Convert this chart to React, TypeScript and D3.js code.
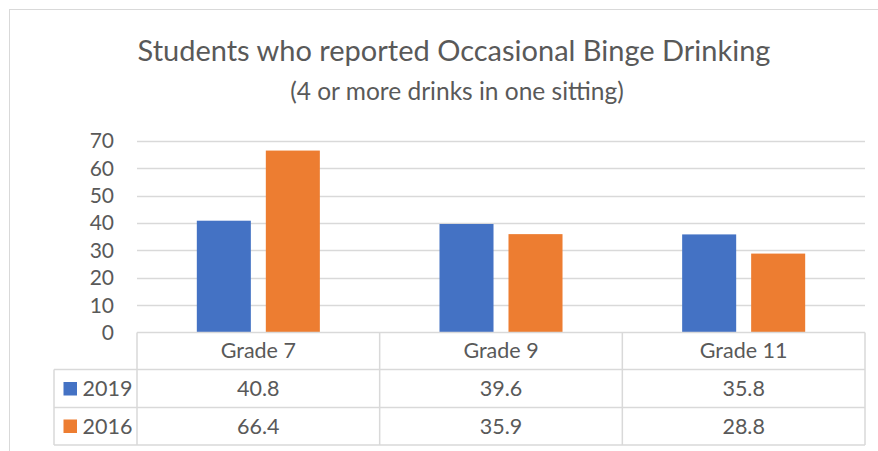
import * as d3 from 'd3';
import React, { useEffect, useRef } from 'react';

const categories = ['Grade 7', 'Grade 9', 'Grade 11'];
const seriesNames = ['2019', '2016'];
const values2019 = [40.8, 39.6, 35.8];
const values2016 = [66.4, 35.9, 28.8];
const yTicks = [0, 10, 20, 30, 40, 50, 60, 70];

const colors = ['#4472C4', '#ED7D31'];
const textColor = '#595959';
const lineColor = '#D9D9D9';
const font = 'Lato, "Open Sans", sans-serif';

function App() {
    const ref = useRef(null);

    useEffect(() => {
        document.body.style.margin = '0';
        const svg = d3.select(ref.current);
        svg.selectAll('*').remove();

        const left = 137, right = 865;
        const top = 140.7, bottom = 332.5;
        const rowTops = [332.5, 369.5, 407.5, 445];
        const legendLeft = 54;

        // outer chart border
        svg.append('rect')
            .attr('x', 9.5).attr('y', 9.5)
            .attr('width', 900).attr('height', 460)
            .attr('fill', '#fff')
            .attr('stroke', lineColor);

        svg.append('text')
            .attr('x', 454).attr('y', 61)
            .attr('text-anchor', 'middle')
            .attr('font-family', font).attr('font-size', 29)
            .attr('fill', textColor)
            .text('Students who reported Occasional Binge Drinking');

        svg.append('text')
            .attr('x', 457).attr('y', 100)
            .attr('text-anchor', 'middle')
            .attr('font-family', font).attr('font-size', 24.5)
            .attr('fill', textColor)
            .text('(4 or more drinks in one sitting)');

        const x0 = d3.scaleBand()
            .domain(categories)
            .range([left, right])
            .padding(0);

        const groupW = x0.bandwidth() * 0.507;
        const x1 = d3.scaleBand()
            .domain(seriesNames)
            .range([(x0.bandwidth() - groupW) / 2, (x0.bandwidth() + groupW) / 2])
            .paddingInner(0.217);

        const y = d3.scaleLinear()
            .domain([0, 70])
            .range([bottom, top]);

        // gridlines
        svg.append('g')
            .selectAll('line')
            .data(yTicks.filter(d => d > 0))
            .enter().append('line')
            .attr('x1', left).attr('x2', right)
            .attr('y1', d => Math.round(y(d)) + 0.5)
            .attr('y2', d => Math.round(y(d)) + 0.5)
            .attr('stroke', lineColor)
            .attr('stroke-width', 1.3);

        // y tick labels
        svg.append('g')
            .selectAll('text')
            .data(yTicks)
            .enter().append('text')
            .attr('x', 114)
            .attr('y', d => y(d) + 7.5)
            .attr('text-anchor', 'end')
            .attr('font-family', font).attr('font-size', 21)
            .attr('fill', textColor)
            .text(d => d);

        const data = categories.map((c, i) => ({
            category: c,
            values: [
                { key: seriesNames[0], value: values2019[i] },
                { key: seriesNames[1], value: values2016[i] },
            ],
        }));

        svg.append('g')
            .selectAll('g')
            .data(data)
            .enter().append('g')
            .attr('transform', d => `translate(${x0(d.category)},0)`)
            .selectAll('rect')
            .data(d => d.values)
            .enter().append('rect')
            .attr('x', d => x1(d.key))
            .attr('width', x1.bandwidth())
            .attr('y', d => y(d.value))
            .attr('height', d => bottom - y(d.value))
            .attr('fill', (d, i) => colors[i]);

        // data table
        const table = svg.append('g')
            .attr('stroke', lineColor)
            .attr('stroke-width', 1.5);

        table.append('line')
            .attr('x1', left).attr('x2', right)
            .attr('y1', rowTops[0]).attr('y2', rowTops[0]);
        rowTops.slice(1).forEach(ry => {
            table.append('line')
                .attr('x1', legendLeft).attr('x2', right)
                .attr('y1', ry).attr('y2', ry);
        });
        table.append('line')
            .attr('x1', legendLeft).attr('x2', legendLeft)
            .attr('y1', rowTops[1]).attr('y2', rowTops[3]);
        [left, ...categories.map(c => x0(c) + x0.bandwidth())].forEach(cx => {
            table.append('line')
                .attr('x1', cx).attr('x2', cx)
                .attr('y1', rowTops[0]).attr('y2', rowTops[3]);
        });

        svg.append('g')
            .selectAll('text')
            .data(categories)
            .enter().append('text')
            .attr('x', d => x0(d) + x0.bandwidth() / 2)
            .attr('y', 358)
            .attr('text-anchor', 'middle')
            .attr('font-family', font).attr('font-size', 21.5)
            .attr('fill', textColor)
            .text(d => d);

        const rows = [values2019, values2016];
        const rowBase = [396, 433.5];
        rows.forEach((vals, r) => {
            svg.append('rect')
                .attr('x', 63.5).attr('y', rowBase[r] - 14)
                .attr('width', 13.5).attr('height', 13.5)
                .attr('fill', colors[r]);
            svg.append('text')
                .attr('x', 82.5).attr('y', rowBase[r])
                .attr('font-family', font).attr('font-size', 21.5)
                .attr('fill', textColor)
                .text(seriesNames[r]);
            svg.append('g')
                .selectAll('text')
                .data(vals)
                .enter().append('text')
                .attr('x', (d, i) => x0(categories[i]) + x0.bandwidth() / 2)
                .attr('y', rowBase[r])
                .attr('text-anchor', 'middle')
                .attr('font-family', font).attr('font-size', 21.5)
                .attr('fill', textColor)
                .text(d => d.toFixed(1));
        });
    }, []);

    return <svg ref={ref} width={878} height={451} style={{ display: 'block' }}></svg>;
}

export default App;
